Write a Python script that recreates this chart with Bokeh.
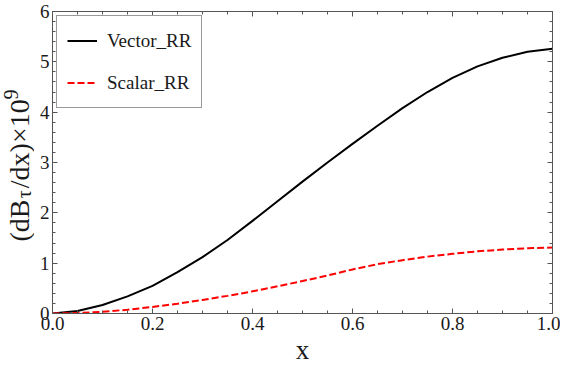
import math
from bokeh.plotting import figure
from bokeh.layouts import row
from bokeh.models import (Range1d, FixedTicker, LinearAxis, Label, Legend,
                          LegendItem, CustomJSTickFormatter)
from bokeh.embed import file_html
from bokeh.resources import INLINE

# ---------------- data ----------------
x_vals = [0.0, 0.05, 0.1, 0.15, 0.2, 0.25, 0.3, 0.35, 0.4, 0.45, 0.5,
          0.55, 0.6, 0.65, 0.7, 0.75, 0.8, 0.85, 0.9, 0.95, 1.0]
vector_rr = [0.0, 0.05, 0.17, 0.34, 0.55, 0.82, 1.12, 1.46, 1.84, 2.23, 2.62,
             3.00, 3.37, 3.73, 4.08, 4.40, 4.68, 4.91, 5.08, 5.20, 5.26]
scalar_rr = [0.0, 0.01, 0.035, 0.075, 0.13, 0.195, 0.27, 0.35, 0.44, 0.54, 0.645,
             0.755, 0.875, 0.98, 1.06, 1.13, 1.185, 1.235, 1.27, 1.295, 1.31]
series_names = ["Vector_RR", "Scalar_RR"]

x_major_ticks = [0.0, 0.2, 0.4, 0.6, 0.8, 1.0]
x_tick_labels = ["0.0", "0.2", "0.4", "0.6", "0.8", "1.0"]
x_minor_ticks = [0.05, 0.1, 0.15, 0.25, 0.3, 0.35, 0.45, 0.5, 0.55,
                 0.65, 0.7, 0.75, 0.85, 0.9, 0.95]
y_major_ticks = [0, 1, 2, 3, 4, 5, 6]
y_minor_ticks = [round(i * 0.2, 1) for i in range(31) if i % 5 != 0]

x_label = "x"
y_label_parts = ["(dB", "τ", "/dx)×10", "9"]

SERIF = "Liberation Serif"
AX_COLOR = "#555555"
TXT_COLOR = "#1a1a1a"
W, H = 560, 371
LW = 34  # width of the strip holding the y title
TOP, BOT = 11, 58

p = figure(width=W - LW, height=H, output_backend="svg", toolbar_location=None,
           x_range=Range1d(0, 1), y_range=Range1d(0, 6),
           x_axis_type=None, y_axis_type=None,
           min_border_left=18, min_border_right=8,
           min_border_top=TOP, min_border_bottom=BOT)
p.grid.visible = False
p.outline_line_color = AX_COLOR
p.background_fill_color = "white"
p.border_fill_color = "white"


def style_axis(ax, labels=True):
    ax.axis_line_color = AX_COLOR
    ax.major_tick_line_color = AX_COLOR
    ax.minor_tick_line_color = AX_COLOR
    ax.major_tick_in = 5
    ax.major_tick_out = 0
    ax.minor_tick_in = 3
    ax.minor_tick_out = 0
    ax.major_label_text_font = SERIF
    ax.major_label_text_font_size = "19px"
    ax.major_label_text_color = TXT_COLOR
    if not labels:
        ax.formatter = CustomJSTickFormatter(code="return ''")
        ax.major_label_standoff = 0
        ax.major_label_text_font_size = "0px"


xt = FixedTicker(ticks=x_major_ticks, minor_ticks=x_minor_ticks)
yt = FixedTicker(ticks=y_major_ticks, minor_ticks=y_minor_ticks)

bottom = LinearAxis(ticker=xt)
bottom.major_label_overrides = {t: l for t, l in zip(x_major_ticks, x_tick_labels)}
style_axis(bottom)
bottom.major_label_standoff = 3
bottom.axis_label = x_label
bottom.axis_label_standoff = 2
bottom.axis_label_text_font = SERIF
bottom.axis_label_text_font_size = "27px"
bottom.axis_label_text_font_style = "normal"
bottom.axis_label_text_color = TXT_COLOR
left = LinearAxis(ticker=yt)
style_axis(left)
left.major_label_standoff = 3
top = LinearAxis(ticker=xt)
style_axis(top, labels=False)
right = LinearAxis(ticker=yt)
style_axis(right, labels=False)

p.add_layout(bottom, "below")
p.add_layout(left, "left")
p.add_layout(top, "above")
p.add_layout(right, "right")

r1 = p.line(x_vals, vector_rr, line_color="black", line_width=2)
r2 = p.line(x_vals, scalar_rr, line_color="#ff0000", line_width=2, line_dash="7 3")

legend = Legend(items=[LegendItem(label=series_names[0], renderers=[r1]),
                       LegendItem(label=series_names[1], renderers=[r2])],
                location="top_left", margin=4, padding=10, spacing=13,
                glyph_width=30, glyph_height=29, label_height=29,
                label_standoff=10, label_text_font=SERIF,
                label_text_font_size="19px", label_text_color=TXT_COLOR,
                border_line_color="#333333", border_line_width=1,
                background_fill_color="white", background_fill_alpha=1)
p.add_layout(legend)

# ---- strip on the left that holds the rotated y title (with sub/superscript)
ly = figure(width=LW, height=H, output_backend="svg", toolbar_location=None,
            x_range=Range1d(0, LW), y_range=Range1d(0, 6),
            x_axis_type=None, y_axis_type=None,
            min_border_left=0, min_border_right=0,
            min_border_top=TOP, min_border_bottom=BOT)
ly.grid.visible = False
ly.outline_line_color = None
ly.background_fill_color = "white"
ly.border_fill_color = "white"

ang = math.pi / 2
pieces = [
    (y_label_parts[0], 19, 1.43, "28px"),
    (y_label_parts[1], 23.5, 2.29, "20px"),
    (y_label_parts[2], 19, 2.49, "28px"),
    (y_label_parts[3], 10.5, 4.25, "20px"),
]
for txt, px, py, fs in pieces:
    ly.add_layout(Label(x=px, y=py, text=txt, angle=ang, text_align="left",
                        text_baseline="alphabetic", text_font=SERIF,
                        text_font_size=fs, text_color=TXT_COLOR))

layout = row(ly, p, spacing=0)
open("out.html", "w").write(file_html(layout, INLINE))
